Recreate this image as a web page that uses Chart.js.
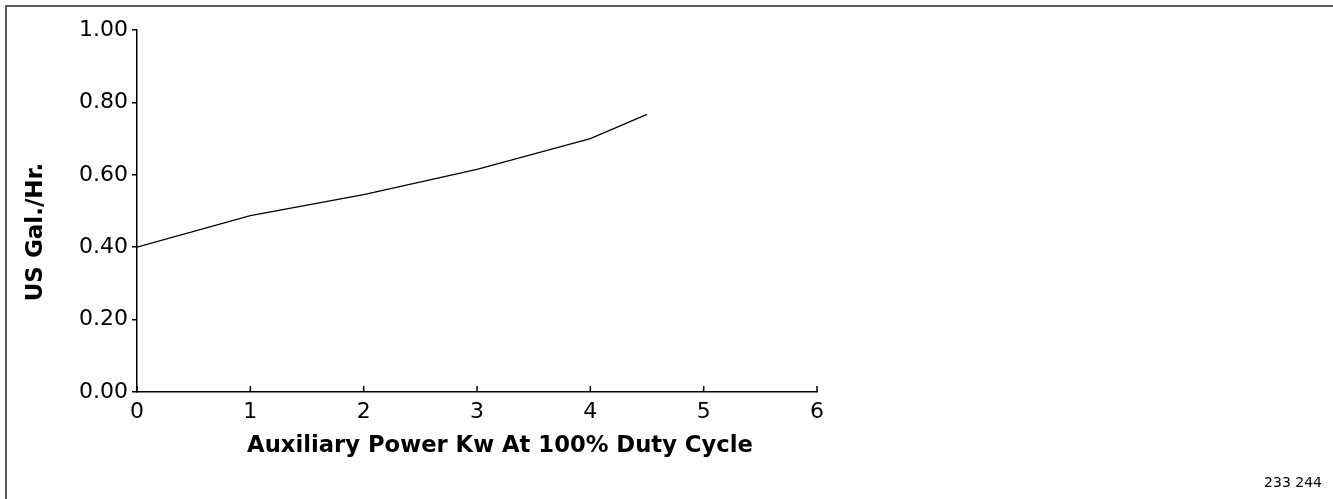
<!DOCTYPE html>
<html lang="en">
<head>
<meta charset="UTF-8">
<title>Fuel Consumption</title>
<script src="https://cdn.jsdelivr.net/npm/chart.js@4.4.0/dist/chart.umd.min.js"></script>
<style>
  body { margin: 0; background: #fff; }
  .wrap { position: relative; width: 1333px; height: 499px; overflow: hidden; }
  .frame { position: absolute; left: 5px; top: 5px; right: -4px; bottom: -4px;
           border-left: 2px solid #5a5a5a; border-top: 2px solid #5a5a5a; }
  #chart { position: absolute; left: 0; top: 0; }
  .code { position: absolute; right: 11px; top: 474px; font: 14px 'DejaVu Sans', sans-serif; color: #000; }
</style>
</head>
<body>
<div class="wrap">
  <div class="frame"></div>
  <canvas id="chart" width="1333" height="499"></canvas>
  <div class="code">233 244</div>
</div>
<script>
  // values
  const powerKw = [0, 1, 2, 3, 4, 4.5];
  const galPerHr = [0.40, 0.487, 0.545, 0.615, 0.70, 0.767];
  const xTicks = [0, 1, 2, 3, 4, 5, 6];
  const yTicks = [0, 0.2, 0.4, 0.6, 0.8, 1.0];
  const xTitle = 'Auxiliary Power Kw At 100% Duty Cycle';
  const yTitle = 'US Gal./Hr.';

  const FONT = "'DejaVu Sans', sans-serif";

  // x ticks in the original point up into the plot
  const innerTicks = {
    id: 'innerTicks',
    afterDraw(chart) {
      const { ctx, chartArea } = chart;
      const x = chart.scales.x;
      ctx.save();
      ctx.strokeStyle = '#000';
      ctx.lineWidth = 1.5;
      x.ticks.forEach((t, i) => {
        const px = x.getPixelForTick(i);
        ctx.beginPath();
        ctx.moveTo(px, chartArea.bottom);
        ctx.lineTo(px, chartArea.bottom - 6);
        ctx.stroke();
      });
      ctx.restore();
    }
  };

  // axis titles sit a bit off-centre in the original
  const axisTitles = {
    id: 'axisTitles',
    afterDraw(chart) {
      const { ctx, chartArea } = chart;
      ctx.save();
      ctx.fillStyle = '#000';
      ctx.textAlign = 'center';
      ctx.textBaseline = 'middle';
      ctx.font = "bold 22.7px " + FONT;
      ctx.fillText(xTitle, (chartArea.left + chartArea.right) / 2 + 23, chartArea.bottom + 54);
      ctx.font = "bold 23px " + FONT;
      ctx.translate(36, chartArea.bottom - 160);
      ctx.rotate(-Math.PI / 2);
      ctx.fillText(yTitle, 0, 0);
      ctx.restore();
    }
  };

  new Chart(document.getElementById('chart'), {
    type: 'line',
    data: {
      datasets: [{
        data: powerKw.map((x, i) => ({ x: x, y: galPerHr[i] })),
        borderColor: '#000',
        borderWidth: 1.2,
        pointRadius: 0,
        tension: 0,
        fill: false
      }]
    },
    options: {
      responsive: false,
      animation: false,
      layout: { padding: { left: 0, top: 30, right: 516, bottom: 67 } },
      plugins: { legend: { display: false }, tooltip: { enabled: false } },
      scales: {
        x: {
          type: 'linear',
          min: xTicks[0],
          max: xTicks[xTicks.length - 1],
          afterBuildTicks: s => { s.ticks = xTicks.map(v => ({ value: v })); },
          afterFit: s => { s.height = 40; },
          ticks: { color: '#000', font: { family: FONT, size: 22 }, padding: 7, maxRotation: 0 },
          grid: { drawOnChartArea: false, drawTicks: false },
          border: { color: '#000', width: 1.5 }
        },
        y: {
          min: yTicks[0],
          max: yTicks[yTicks.length - 1],
          afterBuildTicks: s => { s.ticks = yTicks.map(v => ({ value: v })); },
          afterFit: s => { s.width = 137; },
          ticks: { color: '#000', font: { family: FONT, size: 22 }, padding: 4, callback: v => v.toFixed(2) },
          grid: { drawOnChartArea: false, tickLength: 5, color: '#000', lineWidth: 1.5 },
          border: { color: '#000', width: 1.5 }
        }
      }
    },
    plugins: [innerTicks, axisTitles]
  });
</script>
</body>
</html>
